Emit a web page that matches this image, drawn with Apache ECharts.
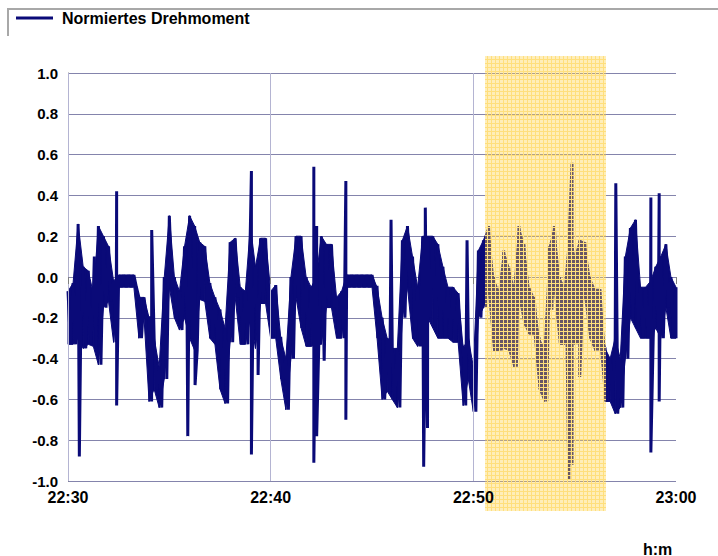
<!DOCTYPE html>
<html>
<head>
<meta charset="utf-8">
<script src="https://cdn.jsdelivr.net/npm/echarts@6/dist/echarts.min.js"></script>
<style>
html,body{margin:0;padding:0;background:#fff;}
#chart{width:718px;height:556px;}
</style>
</head>
<body>
<div id="chart"></div>
<script>
// ---- data (minutes after 22:30) ----
const seriesName = 'Normiertes Drehmoment';
const timeLabels = ['22:30', '22:40', '22:50', '23:00'];
const axisUnit = 'h:m';
const sampleStep = 0.25; // minutes between envelope samples
// upper envelope of the dense signal, one value per sample
const envHigh = [
 -0.07,-0.03, 0.26, 0.05, 0.03,-0.08, 0.25, 0.20, 0.15,-0.02,
  0.01, 0.01, 0.01, 0.01,-0.10,-0.10,-0.20,-0.30,-0.44, 0.00,
  0.30, 0.00,-0.07, 0.15, 0.30, 0.25, 0.17, 0.15,-0.03,-0.10,
 -0.16,-0.25, 0.17, 0.19,-0.05,-0.07, 0.25, 0.05, 0.19, 0.19,
 -0.07,-0.04,-0.30,-0.40, 0.00, 0.20, 0.20, 0.00,-0.05, 0.00,
  0.20, 0.16, 0.16,-0.10,-0.07, 0.01, 0.01, 0.01, 0.01, 0.01,
  0.01,-0.05,-0.20,-0.30,-0.35,-0.35, 0.18, 0.25, 0.10,-0.05,
  0.20, 0.20, 0.20, 0.16, 0.05,-0.05,-0.05,-0.08,-0.35,-0.30,
 -0.44, 0.13, 0.18, 0.25, 0.00,-0.07, 0.13, 0.05,-0.05, 0.25,
  0.16,-0.05,-0.10,-0.30,-0.35, 0.15, 0.25, 0.00,-0.05, 0.25,
  0.10, 0.18, 0.17, 0.00,-0.06,-0.06,-0.35,-0.40,-0.30,-0.40,
  0.10, 0.24, 0.28,-0.05,-0.05,-0.02, 0.05, 0.10, 0.16, 0.00,
 -0.05
];
// lower envelope of the dense signal
const envLow = [
 -0.33,-0.33,-0.30,-0.35,-0.33,-0.34,-0.43,-0.15,-0.12,-0.32,
 -0.05,-0.05,-0.05,-0.05,-0.30,-0.20,-0.61,-0.55,-0.64,-0.50,
 -0.05,-0.20,-0.26,-0.20,-0.30,-0.36,-0.11,-0.12,-0.30,-0.33,
 -0.55,-0.62,-0.32,-0.10,-0.33,-0.33,-0.20,-0.35,-0.13,-0.13,
 -0.30,-0.30,-0.50,-0.65,-0.40,-0.10,-0.25,-0.34,-0.34,-0.33,
 -0.33,-0.15,-0.15,-0.30,-0.30,-0.05,-0.05,-0.05,-0.05,-0.05,
 -0.05,-0.30,-0.60,-0.56,-0.60,-0.64,-0.20,-0.05,-0.30,-0.34,
 -0.30,-0.20,-0.25,-0.30,-0.30,-0.30,-0.32,-0.32,-0.63,-0.50,
 -0.66,-0.20,-0.15,-0.08,-0.36,-0.36,-0.35,-0.36,-0.44,-0.10,
 -0.23,-0.28,-0.28,-0.55,-0.61,-0.16,-0.07,-0.33,-0.33,-0.30,
 -0.33,-0.15,-0.10,-0.30,-0.36,-0.32,-0.61,-0.61,-0.67,-0.64,
 -0.40,-0.20,-0.25,-0.30,-0.30,-0.30,-0.25,-0.30,-0.15,-0.30,
 -0.30
];
// isolated spikes
const spikeTimes  = [0.56, 1.30, 2.40, 2.40, 4.13, 5.91, 6.27, 9.05, 9.05, 9.38,
                     12.13, 12.13, 12.27, 12.27, 12.64, 13.71, 13.71, 15.94, 17.55, 17.63,
                     17.74, 19.69, 24.71, 24.87, 24.87, 25.25, 27.03, 28.76, 28.76, 29.17, 29.17];
const spikeValues = [-0.88, 0.10, 0.42, -0.63, 0.23, -0.78, -0.53, 0.52, -0.87, -0.48,
                     0.54, -0.91, 0.25, -0.78, -0.41, 0.47, -0.70, 0.28, -0.93, 0.34,
                     -0.74, 0.18, -0.99, 0.56, -0.92, -0.49, 0.46, 0.39, -0.86, 0.41, -0.61];
// highlighted time window (minutes)
const bandStart = 20.6;
const bandEnd = 26.57;

// ---- build series points ----
const pts = [];
for (let i = 0; i < envHigh.length; i++) {
  const t = i * sampleStep;
  pts.push([t, envHigh[i]]);
  pts.push([Math.min(t + sampleStep / 2, 30), envLow[i]]);
}
for (let k = 0; k < spikeTimes.length; k++) pts.push([spikeTimes[k], spikeValues[k]]);
const seriesData = pts.map((p, idx) => ({p, idx}))
  .sort((a, b) => (a.p[0] - b.p[0]) || (a.idx - b.idx))
  .map(o => o.p);

// envelope segments: [t0, hi0, lo0, t1, hi1, lo1]
const envSegments = [];
for (let i = 0; i + 1 < envHigh.length; i++) {
  envSegments.push([i * sampleStep, envHigh[i], envLow[i],
                    (i + 1) * sampleStep, envHigh[i + 1], envLow[i + 1]]);
}

const NAVY = '#0a0a78';
const chart = echarts.init(document.getElementById('chart'), null, {renderer: 'svg'});
const FONT = 'Liberation Sans, Arial, sans-serif';

chart.setOption({
  animation: false,
  backgroundColor: '#ffffff',
  legend: {
    data: [seriesName],
    left: 11, top: 5,
    icon: 'rect', itemWidth: 37, itemHeight: 3,
    textStyle: {fontFamily: FONT, fontWeight: 'bold', fontSize: 16, color: '#000', padding: [0, 0, 0, 4]}
  },
  grid: {left: 68, right: 42, top: 73, bottom: 75, containLabel: false},
  xAxis: {
    type: 'value', min: 0, max: 30, interval: 10,
    z: 200,
    axisLine: {show: false},
    axisTick: {show: true, length: 7, lineStyle: {color: '#808080'}},
    axisLabel: {
      margin: 8, fontFamily: FONT, fontWeight: 'bold', fontSize: 16, color: '#000',
      formatter: v => timeLabels[Math.round(v / 10)]
    },
    splitLine: {show: true, lineStyle: {color: ['#b4b4d2', '#b4b4d2', '#b4b4d2', 'rgba(0,0,0,0)'], width: 1}}
  },
  yAxis: {
    type: 'value', min: -1, max: 1, interval: 0.2,
    axisLine: {show: true, lineStyle: {color: '#808080'}},
    axisTick: {show: false},
    axisLabel: {margin: 10, fontFamily: FONT, fontWeight: 'bold', fontSize: 15, color: '#000',
      formatter: v => v.toFixed(1)},
    splitLine: {show: true, lineStyle: {color: '#8484ac', width: 1}}
  },
  series: [
    {
      name: 'envelope', type: 'custom', silent: true, z: 2,
      data: envSegments,
      encode: {x: [0, 3], y: [1, 2, 4, 5]},
      renderItem: (params, api) => {
        const a = api.coord([api.value(0), api.value(1)]);
        const b = api.coord([api.value(3), api.value(4)]);
        const c = api.coord([api.value(3), api.value(5)]);
        const d = api.coord([api.value(0), api.value(2)]);
        return {
          type: 'polygon',
          shape: {points: [a, b, c, d]},
          style: {fill: NAVY, stroke: NAVY, lineWidth: 1}
        };
      }
    },
    {
      name: seriesName,
      type: 'line',
      data: seriesData,
      showSymbol: false,
      symbol: 'none',
      sampling: null,
      lineStyle: {color: NAVY, width: 3, join: 'miter'},
      itemStyle: {color: NAVY},
      z: 3
    }
  ]
});

// yellow checkered highlight overlay
const pc = document.createElement('canvas');
pc.width = 4; pc.height = 4;
const g = pc.getContext('2d');
g.fillStyle = 'rgba(255,210,70,0.38)';
g.fillRect(0, 0, 3, 3);
g.fillStyle = '#ffdf7c';
g.fillRect(3, 0, 1, 4);
g.fillRect(0, 3, 4, 1);

const pA = chart.convertToPixel({gridIndex: 0}, [bandStart, 1]);
const pB = chart.convertToPixel({gridIndex: 0}, [bandEnd, -1]);
const bx = Math.round(pA[0]);
const bw = Math.round(pB[0]) - bx;
const by = Math.round(pA[1]) - 17;
const bh = Math.round(pB[1]) + 30 - by;

chart.setOption({
  graphic: [
    {type: 'polyline', z: 50, silent: true,
     shape: {points: [[8, 36], [8, 9], [718, 9]]},
     style: {stroke: '#a8a8a8', lineWidth: 2, fill: null}},
    {type: 'rect', z: 100, silent: true,
     shape: {x: bx, y: by, width: bw, height: bh},
     style: {fill: {image: pc, repeat: 'repeat', imageWidth: 4, imageHeight: 4}}},
    {type: 'text', z: 50, left: 643, top: 541,
     style: {text: axisUnit, fontFamily: FONT, fontWeight: 'bold', fontSize: 16, fill: '#000'}}
  ]
});
</script>
</body>
</html>
